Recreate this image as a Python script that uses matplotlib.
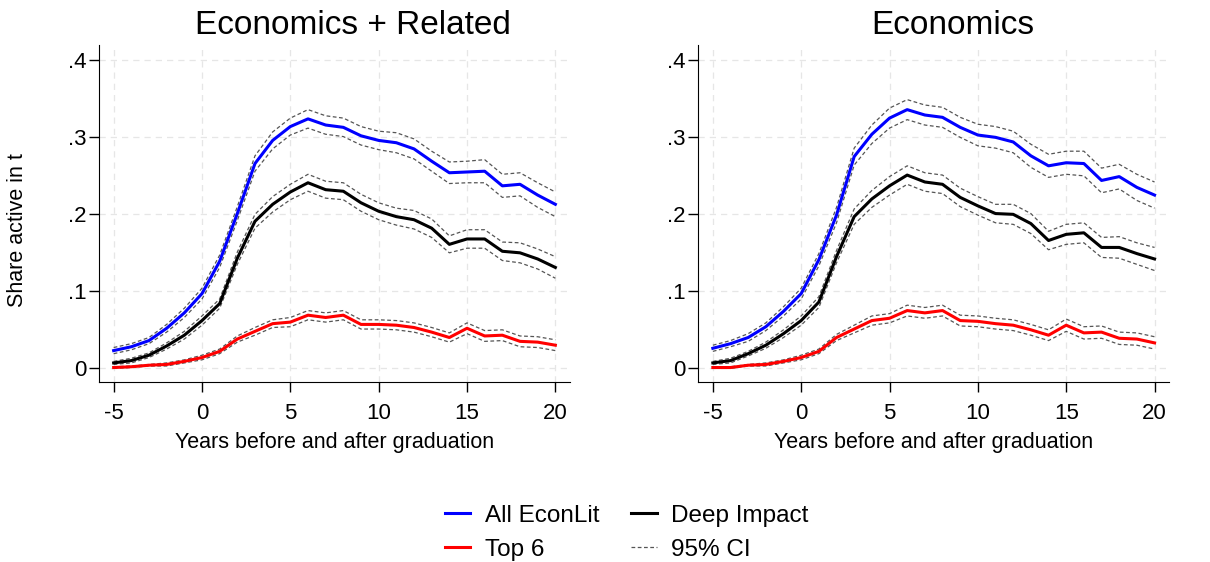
import numpy as np
import matplotlib
matplotlib.use("Agg")
import matplotlib.pyplot as plt

plt.rcParams['font.family'] = ['Liberation Sans', 'DejaVu Sans']
plt.rcParams['axes.unicode_minus'] = False

years = list(range(-5, 21))

# Economics + Related
rel_all = [.022, .027, .035, .051, .071, .096, .138, .200, .265, .295, .313, .323, .315, .312,
           .301, .295, .292, .284, .268, .253, .254, .255, .236, .238, .224, .212]
rel_deep = [.006, .009, .016, .028, .042, .061, .083, .142, .190, .212, .228, .240, .231, .229,
            .214, .203, .196, .192, .181, .160, .167, .167, .151, .149, .141, .130]
rel_top6 = [.000, .001, .003, .004, .008, .013, .021, .037, .047, .057, .059, .068, .065, .068,
            .056, .056, .055, .052, .046, .039, .051, .041, .042, .034, .033, .029]
# half-width of the 95% CI
rel_all_ci = [.004, .004, .004, .005, .006, .007, .008, .009, .010, .011, .011, .012, .012, .012,
              .012, .012, .013, .013, .013, .014, .014, .015, .015, .015, .016, .016]
rel_deep_ci = [.002, .003, .003, .004, .005, .006, .006, .008, .009, .010, .010, .011, .011, .011,
               .011, .011, .011, .012, .012, .011, .012, .012, .012, .013, .013, .014]
rel_top6_ci = [.001, .001, .001, .002, .002, .003, .003, .004, .005, .005, .006, .006, .006, .006,
               .006, .006, .006, .006, .006, .006, .007, .007, .007, .007, .007, .007]

# Economics
eco_all = [.025, .031, .039, .053, .073, .096, .140, .198, .274, .303, .324, .335, .328, .325,
           .312, .302, .299, .293, .275, .262, .266, .265, .243, .248, .234, .224]
eco_deep = [.006, .009, .018, .029, .044, .061, .085, .144, .196, .219, .236, .250, .241, .238,
            .221, .210, .200, .199, .187, .165, .173, .175, .156, .156, .148, .141]
eco_top6 = [.000, .000, .003, .004, .008, .013, .021, .039, .050, .061, .064, .074, .071, .074,
            .061, .060, .057, .055, .049, .042, .055, .045, .046, .038, .037, .032]
eco_all_ci = [.004, .004, .005, .005, .006, .007, .008, .010, .011, .012, .013, .013, .013, .013,
              .013, .014, .014, .014, .015, .015, .015, .016, .016, .016, .017, .017]
eco_deep_ci = [.002, .003, .003, .004, .005, .006, .007, .008, .010, .011, .012, .012, .012, .012,
               .012, .012, .012, .013, .013, .012, .013, .013, .013, .014, .014, .015]
eco_top6_ci = [.001, .001, .001, .002, .002, .003, .003, .004, .005, .006, .006, .007, .007, .007,
               .007, .007, .007, .007, .007, .007, .008, .008, .008, .008, .008, .008]

panels = [
    ("Economics + Related", rel_all, rel_deep, rel_top6, rel_all_ci, rel_deep_ci, rel_top6_ci),
    ("Economics", eco_all, eco_deep, eco_top6, eco_all_ci, eco_deep_ci, eco_top6_ci),
]

fig = plt.figure(figsize=(12.1, 5.62), dpi=100)
ax_left = fig.add_axes([0.0818, 0.320, 0.389, 0.600])
ax_right = fig.add_axes([0.577, 0.320, 0.389, 0.600])

x = np.array(years)
handles = {}
for ax, (title, s_all, s_deep, s_top6, c_all, c_deep, c_top6) in zip([ax_left, ax_right], panels):
    for vals, ci, color, name in [(s_all, c_all, '#0000ff', 'All EconLit'),
                                  (s_deep, c_deep, 'black', 'Deep Impact'),
                                  (s_top6, c_top6, '#ff0000', 'Top 6')]:
        v = np.array(vals)
        c = np.array(ci)
        for band in (v - c, v + c):
            l_ci, = ax.plot(x, band, color='#555555', lw=0.9, ls=(0, (3, 2)))
        l, = ax.plot(x, v, color=color, lw=2.2)
        handles[name] = l
    handles['95% CI'] = l_ci

    ax.set_title(title, fontsize=24, pad=8, x=0.54)
    ax.set_xlim(-5.83, 20.81)
    ax.set_ylim(-0.019, 0.419)
    ax.set_xticks([-5, 0, 5, 10, 15, 20])
    ax.set_yticks([0, .1, .2, .3, .4])
    ax.set_yticklabels(['0', '.1', '.2', '.3', '.4'])
    ax.tick_params(labelsize=16, length=7, width=1)
    ax.tick_params(axis='y', pad=2)
    ax.tick_params(axis='x', pad=8)
    ax.set_xlabel("Years before and after graduation", fontsize=15.5, labelpad=6)
    ax.spines['top'].set_visible(False)
    ax.spines['right'].set_visible(False)
    ax.grid(True, color='#e6e6e6', ls=(0, (5, 4)), lw=0.9)
    ax.set_axisbelow(True)

ax_left.set_ylabel("Share active in t", fontsize=15.5)
ax_left.yaxis.set_label_coords(-0.151, 0.45)

fig.legend([handles['All EconLit'], handles['Top 6'], handles['Deep Impact'], handles['95% CI']],
           ['All EconLit', 'Top 6', 'Deep Impact', '95% CI'],
           ncol=2, loc='center', bbox_to_anchor=(0.518, 0.052), frameon=False,
           fontsize=17.5, handlelength=1.05, handletextpad=0.6, columnspacing=1.3, labelspacing=0.5)

fig.savefig("out.png", dpi=100)
